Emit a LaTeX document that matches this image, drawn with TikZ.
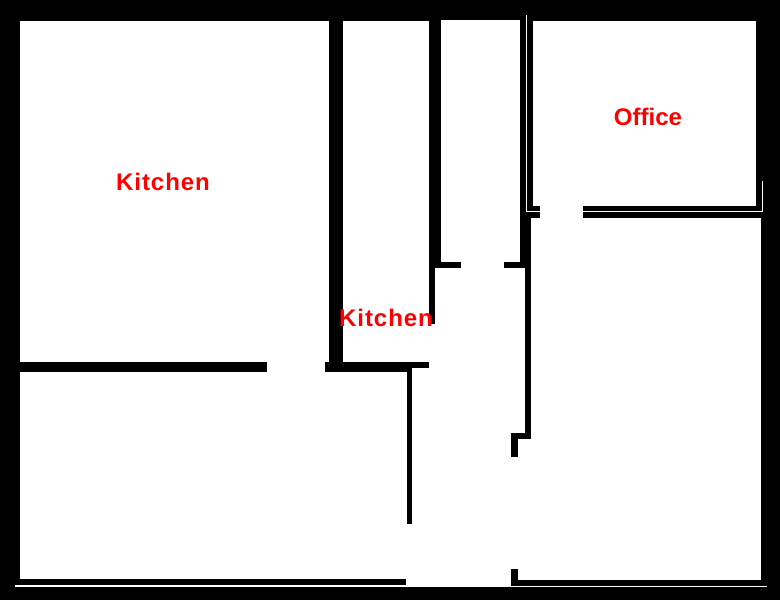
\documentclass[tikz,border=0pt]{standalone}
\usepackage{fontspec}
\setmainfont{Liberation Sans}
\newfontfamily\labelfont[LetterSpace=4]{Liberation Sans}
\tikzset{
  wall/.style={fill=black,draw=none},
  room/.style={fill=white,draw=none},
  seam/.style={fill=white,draw=none},
  roomlabel/.style={text=red,inner sep=0pt,anchor=base,font=\fontsize{24}{24}\bfseries\selectfont},
  spaced/.style={font=\labelfont\fontsize{24}{24}\bfseries\selectfont}
}
\begin{document}
\begin{tikzpicture}[x=1pt,y=-1pt]
\useasboundingbox (0,0) rectangle (780,600);
% ground and rooms
\fill[wall] (0,0) rectangle (780,600);
\fill[room] (20,21) rectangle (761,580);
\fill[room] (441,20) rectangle (520,21);
\fill[wall] (20,579) rectangle (406,580);
\fill[room] (406,579) rectangle (511,586);
% office walls
\fill[wall] (520,20) rectangle (533,206);
\fill[wall] (520,206) rectangle (540,218);
\fill[wall] (583,206) rectangle (761,218);
\fill[wall] (756,21) rectangle (761,206);
\fill[wall] (520,218) rectangle (531,262);
\fill[wall] (504,262) rectangle (531,268);
\fill[wall] (525,268) rectangle (531,439);
\fill[wall] (511,433) rectangle (525,439);
\fill[wall] (511,439) rectangle (518,457);
% central walls
\fill[wall] (329,21) rectangle (343,362);
\fill[wall] (429,21) rectangle (441,262);
\fill[wall] (429,262) rectangle (461,268);
\fill[wall] (429,268) rectangle (435,324);
\fill[wall] (325,362) rectangle (407,372);
\fill[wall] (407,362) rectangle (429,368);
\fill[wall] (407,368) rectangle (412,524);
\fill[wall] (20,362) rectangle (267,372);
% bottom stub
\fill[wall] (511,569) rectangle (518,586);
% thin white seams
\fill[seam] (526,15) rectangle (527,212);
\fill[seam] (526,211) rectangle (763,212);
\fill[seam] (762,181) rectangle (763,212);
\fill[seam] (15,585) rectangle (406,587);
\fill[seam] (406,586) rectangle (767,587);
% labels
\node[roomlabel,spaced] (kitchenA) at (163,190) {Kitchen};
\node[roomlabel,spaced] (kitchenB) at (386,326) {Kitchen};
\node[roomlabel] (office) at (648,125) {Office};
\end{tikzpicture}
\end{document}
